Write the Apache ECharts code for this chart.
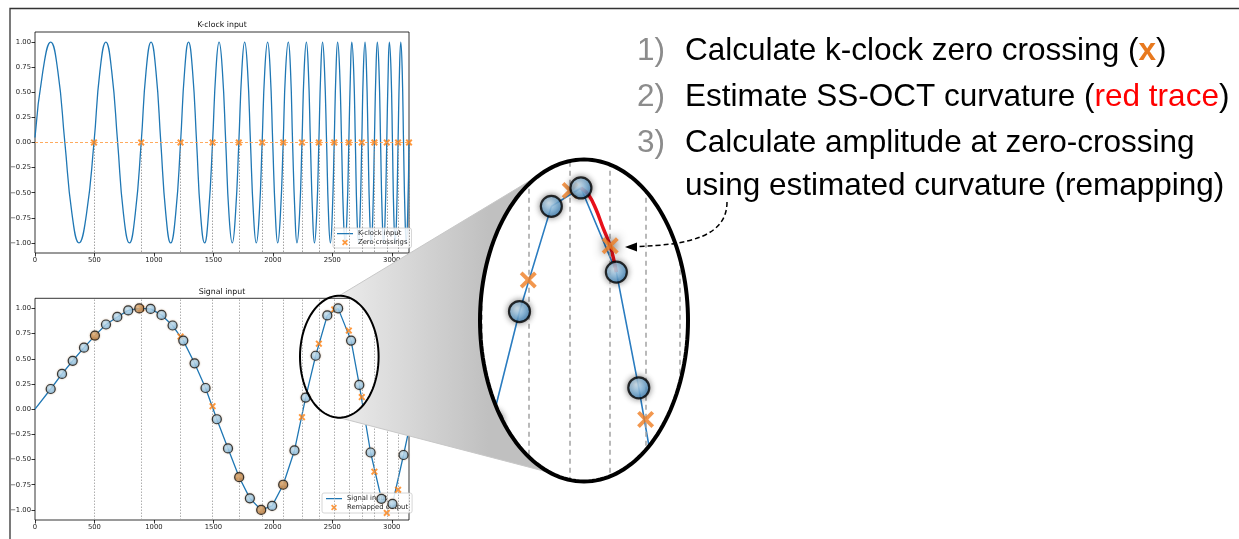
<!DOCTYPE html>
<html>
<head>
<meta charset="utf-8">
<script src="https://cdn.jsdelivr.net/npm/echarts@6/dist/echarts.min.js"></script>
<style>
html,body{margin:0;padding:0;background:#fff;}
#c{width:1239px;height:539px;}
</style>
</head>
<body>
<div id="c"></div>
<script>
// ---------------- data ----------------
const xTicks = [0, 500, 1000, 1500, 2000, 2500, 3000];
const yTicks = [-1, -0.75, -0.5, -0.25, 0, 0.25, 0.5, 0.75, 1];
const xMax = 3145;

// K-clock curve: zero / eighth / peak / trough positions
const kclockX = [
  0, 66, 132, 192, 251, 311, 370, 433,
  496, 546, 596, 645, 695, 744, 794, 843,
  893, 934, 976, 1017, 1058, 1100, 1141, 1183,
  1224, 1258, 1291, 1325, 1359, 1392, 1426, 1459,
  1493, 1521, 1548, 1576, 1604, 1631, 1659, 1686,
  1714, 1739, 1763, 1788, 1812, 1837, 1861, 1886,
  1910, 1932, 1956, 1978, 1999, 2021, 2041, 2064,
  2087, 2107, 2130, 2149, 2166, 2186, 2203, 2225,
  2245, 2263, 2282, 2299, 2316, 2334, 2350, 2369,
  2387, 2403, 2418, 2435, 2452, 2468, 2484, 2500,
  2516, 2531, 2545, 2562, 2578, 2593, 2608, 2624,
  2639, 2653, 2664, 2680, 2694, 2707, 2721, 2734,
  2748, 2761, 2775, 2788, 2801, 2814, 2828, 2841,
  2854, 2867, 2879, 2893, 2906, 2919, 2932, 2945,
  2958, 2970, 2980, 2994, 3006, 3017, 3029, 3041,
  3053, 3065, 3076, 3088, 3099, 3111, 3122, 3134,
  3145
];
const kclockY = [
  0.05, 0.71, 1, 0.71, 0, -0.71, -1, -0.71,
  0, 0.71, 1, 0.71, 0, -0.71, -1, -0.71,
  0, 0.71, 1, 0.71, 0, -0.71, -1, -0.71,
  0, 0.71, 1, 0.71, 0, -0.71, -1, -0.71,
  0, 0.71, 1, 0.71, 0, -0.71, -1, -0.71,
  0, 0.71, 1, 0.71, 0, -0.71, -1, -0.71,
  0, 0.71, 1, 0.71, 0, -0.71, -1, -0.71,
  0, 0.71, 1, 0.71, 0, -0.71, -1, -0.71,
  0, 0.71, 1, 0.71, 0, -0.71, -1, -0.71,
  0, 0.71, 1, 0.71, 0, -0.71, -1, -0.71,
  0, 0.71, 1, 0.71, 0, -0.71, -1, -0.71,
  0, 0.71, 1, 0.71, 0, -0.71, -1, -0.71,
  0, 0.71, 1, 0.71, 0, -0.71, -1, -0.71,
  0, 0.71, 1, 0.71, 0, -0.71, -1, -0.71,
  0, 0.71, 1, 0.71, 0, -0.71, -1, -0.71,
  0, 0.71, 1, 0.71, 0, -0.71, -1, -0.71,
  0
];

// rising zero crossings of the k-clock
const zeroCrossX = [496, 893, 1224, 1493, 1714, 1910, 2087, 2245, 2387, 2516, 2639, 2748, 2854, 2958, 3053, 3145];

// signal samples
const sampleX = [132, 227, 317, 412, 504, 597, 692, 784, 877, 972, 1064, 1157, 1247, 1342, 1434, 1529,
                 1623, 1717, 1807, 1902, 1994, 2087, 2182, 2276, 2360, 2458, 2549, 2658, 2727, 2822,
                 2913, 3006, 3099];
const sampleY = [0.20, 0.35, 0.48, 0.61, 0.73, 0.84, 0.915, 0.98, 1.00, 0.995, 0.935, 0.83, 0.68, 0.455, 0.21, -0.10,
                 -0.39, -0.675, -0.885, -1.0, -0.96, -0.75, -0.41, 0.115, 0.53, 0.93, 1.0, 0.68, 0.24, -0.43,
                 -0.89, -0.94, -0.455];
const signalStart = [0, 0];
const signalEnd = [3145, -0.2];

// remapped output at the zero crossings
const remappedY = [0.72, 1.0, 0.72, 0.03, -0.67, -1.0, -0.75, -0.08, 0.65, 0.99, 0.78, 0.12, -0.62, -1.03, -0.80];

// red trace (estimated curvature) in the magnified view
const redTraceX = [2549, 2572, 2595, 2618, 2639, 2658];
const redTraceY = [1.0, 0.975, 0.92, 0.845, 0.78, 0.68];
const highlightCross = 10;   // remapped point with the grey glow

// magnified window (data range)
const magX = [2240, 2880];
const magY = [-0.117, 1.109];

const stepNums = ['1)', '2)', '3)'];
const titles = ['K-clock input', 'Signal input'];

// ---------------- chart ----------------
const chart = echarts.init(document.getElementById('c'), null, {renderer: 'canvas'});
const F = 'DejaVu Sans';
const SANS = 'Liberation Sans';
const BLUE = '#1f77b4', ORANGE = '#ff7f0e';
const xPath = 'path://M2,0L5,3L8,0L10,2L7,5L10,8L8,10L5,7L2,10L0,8L3,5L0,2Z';
const xPathMag = 'path://M1.6,0L5,3.4L8.4,0L10,1.6L6.6,5L10,8.4L8.4,10L5,6.6L1.6,10L0,8.4L3.4,5L0,1.6Z';
const lineIcon = 'path://M0,0h0.001v6h-0.001z M0,2.4h16v1.3h-16z';

const fmtY = v => v.toFixed(2).replace('-', '\u2212');

function xAxis(gi) {
  return {type: 'value', gridIndex: gi, min: 0, max: xMax,
    axisLine: {show: false, onZero: false},
    axisTick: {show: true, length: 3.5, customValues: xTicks, lineStyle: {color: '#000', width: 0.8}},
    axisLabel: {customValues: xTicks, fontSize: 6.8, color: '#222', fontFamily: F, margin: 4, formatter: v => String(v)},
    splitLine: {show: false}};
}
function yAxis(gi) {
  return {type: 'value', gridIndex: gi, min: -1.1, max: 1.1,
    axisLine: {show: false, onZero: false},
    axisTick: {show: true, length: 3.5, customValues: yTicks, lineStyle: {color: '#000', width: 0.8}},
    axisLabel: {customValues: yTicks, fontSize: 6.8, color: '#222', fontFamily: F, margin: 4, formatter: fmtY},
    splitLine: {show: false}};
}

const kData = kclockX.map((x, i) => [x, kclockY[i]]);
const zcData = zeroCrossX.map(x => [x, 0]);
const lineData = [signalStart].concat(sampleX.map((x, i) => [x, sampleY[i]]), [signalEnd]);
const remapData = remappedY.map((y, i) => [zeroCrossX[i], y]);

const blueGrad = {type: 'radial', x: 0.4, y: 0.35, r: 0.75,
  colorStops: [{offset: 0, color: '#cdebfd'}, {offset: 1, color: '#72b6e8'}]};
const brownGrad = {type: 'radial', x: 0.4, y: 0.35, r: 0.75,
  colorStops: [{offset: 0, color: '#e4bd8e'}, {offset: 1, color: '#a8733f'}]};
const sampleData = sampleX.map((x, i) => {
  const near = zeroCrossX.some(z => Math.abs(z - x) < 18);
  return near ? {value: [x, sampleY[i]], itemStyle: {color: brownGrad}} : [x, sampleY[i]];
});

const magGrad = {type: 'radial', x: 0.38, y: 0.35, r: 0.7,
  colorStops: [{offset: 0, color: '#dcf0fd'}, {offset: 0.6, color: '#80bdea'}, {offset: 1, color: '#3a86c6'}]};
const magRemap = remapData.map((d, i) => i === highlightCross
  ? {value: d, itemStyle: {shadowBlur: 10, shadowColor: 'rgba(0,0,0,0.85)'}} : d);
const redTrace = redTraceX.map((x, i) => [x, redTraceY[i]]);

// ---------------- decoration geometry ----------------
const S = {cx: 339.3, cy: 356.7, rx: 39.3, ry: 61};
const B = {cx: 584, cy: 320.5, rx: 104, ry: 161};
function ell(E, a0, a1, n) {
  const p = [];
  for (let i = 0; i <= n; i++) {
    const t = a0 + (a1 - a0) * i / n;
    p.push([E.cx + E.rx * Math.cos(t), E.cy + E.ry * Math.sin(t)]);
  }
  return p;
}
const t1 = 2 * Math.PI - Math.acos((540 - B.cx) / B.rx);
const t2 = Math.acos((550 - B.cx) / B.rx);
const conePts = [[S.cx, S.cy - S.ry]]
  .concat(ell(B, t1, t2, 60))
  .concat([[S.cx, S.cy + S.ry]])
  .concat(ell(S, Math.PI / 2, -Math.PI / 2, 40));
const maskL = [[466, 145], [B.cx, 145]].concat(ell(B, 1.5 * Math.PI, 0.5 * Math.PI, 80), [[B.cx, 496], [466, 496]]);
const maskR = [[702, 145], [B.cx, 145]].concat(ell(B, -0.5 * Math.PI, 0.5 * Math.PI, 80), [[B.cx, 496], [702, 496]]);

const FS = 31.5;
const textEl = (txt, x, y, color, rich) => ({
  type: 'text', x: x, y: y, z: 80,
  style: {text: txt, fontSize: FS, fontFamily: SANS, fill: color, verticalAlign: 'middle', align: 'left', rich: rich || {}}
});
const rich = {
  o: {fontSize: FS, fontFamily: SANS, fill: '#e8791e', fontWeight: 'bold'},
  r: {fontSize: FS, fontFamily: SANS, fill: '#ff0000'}
};
const lineYs = [51, 97.5, 143, 186.5];

const legendBase = {orient: 'vertical',
  backgroundColor: 'rgba(255,255,255,0.85)', borderColor: '#ccc', borderWidth: 0.8, borderRadius: 2,
  padding: [2, 4, 2, 4], itemGap: 2, itemWidth: 16, itemHeight: 6,
  textStyle: {fontSize: 6.8, color: '#222', fontFamily: F}};

const option = {
  animation: false,
  backgroundColor: '#fff',
  grid: [
    {left: 35, top: 32, width: 374, height: 221, show: true, borderColor: '#000', borderWidth: 0.8, backgroundColor: 'transparent'},
    {left: 35, top: 298.3, width: 374, height: 221.7, show: true, borderColor: '#000', borderWidth: 0.8, backgroundColor: 'transparent'},
    {left: 480.5, top: 159.3, width: 208, height: 322.4, show: false}
  ],
  xAxis: [xAxis(0), xAxis(1),
    {type: 'value', gridIndex: 2, min: magX[0], max: magX[1], show: false}],
  yAxis: [yAxis(0), yAxis(1),
    {type: 'value', gridIndex: 2, min: magY[0], max: magY[1], show: false}],
  legend: [
    Object.assign({data: [{name: 'K-clock input', icon: lineIcon}, {name: 'Zero crossings'}], left: 333, top: 228}, legendBase),
    Object.assign({data: [{name: 'Signal input', icon: lineIcon}, {name: 'Remapped output'}], left: 322, top: 493}, legendBase)
  ],
  series: [
    {name: 'K-clock input', type: 'line', xAxisIndex: 0, yAxisIndex: 0, data: kData, smooth: 0.5,
     symbol: 'none', showSymbol: false, lineStyle: {color: BLUE, width: 1.3}, itemStyle: {color: BLUE}, z: 3},
    {name: 'Zero crossings', type: 'scatter', xAxisIndex: 0, yAxisIndex: 0, data: zcData,
     symbol: xPath, symbolSize: 7, itemStyle: {color: ORANGE}, z: 4,
     markLine: {silent: true, symbol: 'none', label: {show: false},
       lineStyle: {color: '#8a8a8a', type: [1.5, 1.5], width: 0.8},
       data: [{yAxis: 0, lineStyle: {color: '#ffa24d', type: [3, 2], width: 0.9}}]
         .concat(zeroCrossX.map(x => [{coord: [x, 0]}, {coord: [x, -1.1]}]))}},
    {name: 'Signal input', type: 'line', xAxisIndex: 1, yAxisIndex: 1, data: lineData,
     symbol: 'none', showSymbol: false, lineStyle: {color: BLUE, width: 1.3}, itemStyle: {color: BLUE}, z: 3,
     markLine: {silent: true, symbol: 'none', label: {show: false},
       lineStyle: {color: '#9a9a9a', type: [1.5, 1.5], width: 0.8},
       data: zeroCrossX.map(x => ({xAxis: x}))}},
    {name: 'Remapped output', type: 'scatter', xAxisIndex: 1, yAxisIndex: 1, data: remapData,
     symbol: xPath, symbolSize: 7, itemStyle: {color: ORANGE}, z: 4},
    {name: 'Samples', type: 'scatter', xAxisIndex: 1, yAxisIndex: 1, data: sampleData,
     symbol: 'circle', symbolSize: 9,
     itemStyle: {color: blueGrad, borderColor: '#111', borderWidth: 1.2, shadowBlur: 2, shadowColor: 'rgba(150,95,40,0.45)'}, z: 5},
    // magnified view
    {name: 'mag-signal', type: 'line', xAxisIndex: 2, yAxisIndex: 2, data: lineData,
     symbol: 'none', showSymbol: false, lineStyle: {color: '#2a7cc0', width: 1.6}, z: 3,
     markLine: {silent: true, symbol: 'none', label: {show: false},
       lineStyle: {color: '#a3a3a3', type: [5, 4], width: 1.5},
       data: zeroCrossX.filter(x => x >= magX[0] && x <= magX[1]).map(x => ({xAxis: x}))}},
    {name: 'mag-red', type: 'line', xAxisIndex: 2, yAxisIndex: 2, data: redTrace, smooth: 0.4,
     symbol: 'none', showSymbol: false, lineStyle: {color: '#e8101a', width: 3.5}, z: 4},
    {name: 'mag-remap', type: 'scatter', xAxisIndex: 2, yAxisIndex: 2, data: magRemap,
     symbol: xPathMag, symbolSize: 17, itemStyle: {color: '#ef7d22'}, z: 5},
    {name: 'mag-samples', type: 'scatter', xAxisIndex: 2, yAxisIndex: 2, data: sampleX.map((x, i) => [x, sampleY[i]]),
     symbol: 'circle', symbolSize: 21,
     itemStyle: {color: magGrad, borderColor: '#000', borderWidth: 2.2, shadowBlur: 6, shadowColor: 'rgba(0,0,0,0.55)'}, z: 6}
  ],
  graphic: [
    {type: 'polyline', z: 90, shape: {points: [[10, 545], [10, 8.5], [1245, 8.5]]}, style: {stroke: '#333', lineWidth: 1.3, fill: null}},
    {type: 'text', x: 222, y: 25, z: 20, style: {text: titles[0], fontSize: 7.8, fontFamily: F, fill: '#111', align: 'center', verticalAlign: 'middle'}},
    {type: 'text', x: 222, y: 291.5, z: 20, style: {text: titles[1], fontSize: 7.8, fontFamily: F, fill: '#111', align: 'center', verticalAlign: 'middle'}},
    {type: 'polygon', z: 45, shape: {points: maskL}, style: {fill: '#fff', stroke: null}},
    {type: 'polygon', z: 45, shape: {points: maskR}, style: {fill: '#fff', stroke: null}},
    {type: 'polygon', z: 50, shape: {points: conePts},
     style: {fill: {type: 'linear', x: 340, y: 0, x2: 488, y2: 0, global: true,
       colorStops: [{offset: 0, color: '#ebebeb'}, {offset: 1, color: '#c0c0c0'}]}, stroke: '#c8c8c8', lineWidth: 1}},
    {type: 'polygon', z: 60, shape: {points: ell(S, 0, 2 * Math.PI, 90)}, style: {fill: null, stroke: '#000', lineWidth: 2}},
    {type: 'polygon', z: 60, shape: {points: ell(B, 0, 2 * Math.PI, 160)}, style: {fill: null, stroke: '#000', lineWidth: 4}},
    textEl(stepNums[0], 637, lineYs[0], '#8c8c8c'),
    textEl(stepNums[1], 637, lineYs[1], '#8c8c8c'),
    textEl(stepNums[2], 637, lineYs[2], '#8c8c8c'),
    textEl('Calculate k-clock zero crossing ({o|x})', 685, lineYs[0], '#000', rich),
    textEl('Estimate SS-OCT curvature ({r|red trace})', 685, lineYs[1], '#000', rich),
    textEl('Calculate amplitude at zero-crossing', 685, lineYs[2], '#000'),
    textEl('using estimated curvature (remapping)', 685, lineYs[3], '#000'),
    {type: 'bezierCurve', z: 80, shape: {x1: 727, y1: 202, cpx1: 727, cpy1: 236, cpx2: 690, cpy2: 245, x2: 636, y2: 246.5},
     style: {stroke: '#000', lineWidth: 1.5, lineDash: [5, 3], fill: null}},
    {type: 'polygon', z: 80, shape: {points: [[625, 247], [637, 242.5], [637, 251.5]]}, style: {fill: '#000', stroke: null}}
  ]
};
chart.setOption(option);
</script>
</body>
</html>
